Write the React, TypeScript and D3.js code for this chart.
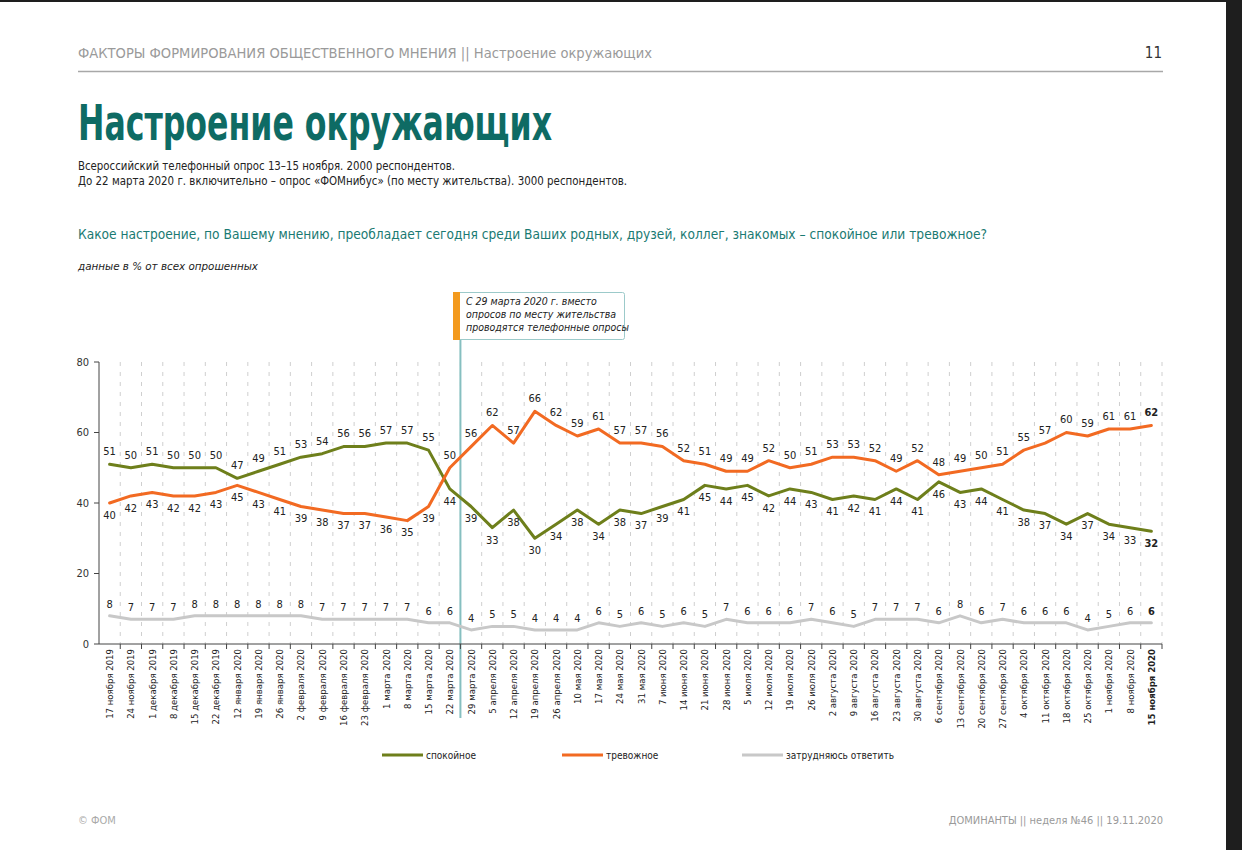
import React from "react";
import * as d3 from "d3";

const dates = [
  "17 ноября 2019", "24 ноября 2019", "1 декабря 2019", "8 декабря 2019", "15 декабря 2019", "22 декабря 2019",
  "12 января 2020", "19 января 2020", "26 января 2020", "2 февраля 2020", "9 февраля 2020", "16 февраля 2020",
  "23 февраля 2020", "1 марта 2020", "8 марта 2020", "15 марта 2020", "22 марта 2020", "29 марта 2020",
  "5 апреля 2020", "12 апреля 2020", "19 апреля 2020", "26 апреля 2020", "10 мая 2020", "17 мая 2020",
  "24 мая 2020", "31 мая 2020", "7 июня 2020", "14 июня 2020", "21 июня 2020", "28 июня 2020",
  "5 июля 2020", "12 июля 2020", "19 июля 2020", "26 июля 2020", "2 августа 2020", "9 августа 2020",
  "16 августа 2020", "23 августа 2020", "30 августа 2020", "6 сентября 2020", "13 сентября 2020", "20 сентября 2020",
  "27 сентября 2020", "4 октября 2020", "11 октября 2020", "18 октября 2020", "25 октября 2020", "1 ноября 2020",
  "8 ноября 2020", "15 ноября 2020",
];

const calm = [
  51, 50, 51, 50, 50, 50, 47, 49, 51, 53, 54, 56, 56, 57, 57, 55, 44,
  39, 33, 38, 30, 34, 38, 34, 38, 37, 39, 41, 45, 44, 45, 42, 44, 43, 41, 42, 41, 44, 41, 46, 43, 44, 41, 38, 37, 34, 37, 34, 33, 32,
];
const anxious = [
  40, 42, 43, 42, 42, 43, 45, 43, 41, 39, 38, 37, 37, 36, 35, 39, 50,
  56, 62, 57, 66, 62, 59, 61, 57, 57, 56, 52, 51, 49, 49, 52, 50, 51, 53, 53, 52, 49, 52, 48, 49, 50, 51, 55, 57, 60, 59, 61, 61, 62,
];
const hard = [
  8, 7, 7, 7, 8, 8, 8, 8, 8, 8, 7, 7, 7, 7, 7, 6, 6,
  4, 5, 5, 4, 4, 4, 6, 5, 6, 5, 6, 5, 7, 6, 6, 6, 7, 6, 5, 7, 7, 7, 6, 8, 6, 7, 6, 6, 6, 4, 5, 6, 6,
];
const yTicks = [0, 20, 40, 60, 80];
const seriesNames = ["спокойное", "тревожное", "затрудняюсь ответить"];

const FONT = "'Liberation Sans Narrow', 'DejaVu Sans Condensed', 'Roboto', sans-serif";
const GREEN = "#6e7f1b";
const ORANGE = "#f26a22";
const GRAY = "#c8c8c8";
const TEAL = "#0e6b64";

export default function App() {
  const left = 99, right = 1162, top = 362, bottom = 644;
  const x = d3.scaleBand<string>().domain(dates).range([left, right]).padding(0);
  const bw = x.bandwidth();
  const cx = (i: number) => (x(dates[i]) as number) + bw / 2;
  const y = d3.scaleLinear().domain([0, 80]).range([bottom, top]);
  const line = d3
    .line<number>()
    .x((_, i) => cx(i))
    .y((d) => y(d))
    .curve(d3.curveLinear);

  const switchIdx = 16; // last index before phone surveys (22 марта)
  const boundaryX = (x(dates[switchIdx]) as number) + bw;
  const boundaries = dates.map((d) => (x(d) as number) + bw);
  const last = dates.length - 1;

  const labelStyle = (i: number) => ({
    fontSize: 11,
    fontFamily: FONT,
    fill: "#222",
    fontWeight: i === last ? 700 : 400,
  });

  const series = [
    { vals: calm, color: GREEN, off: (i: number) => (i < switchIdx ? -13 : 12) },
    { vals: anxious, color: ORANGE, off: (i: number) => (i < switchIdx ? 12 : -13) },
    { vals: hard, color: GRAY, off: () => -12 },
  ];

  const legend = [
    { name: seriesNames[0], color: GREEN, x: 382 },
    { name: seriesNames[1], color: ORANGE, x: 562 },
    { name: seriesNames[2], color: GRAY, x: 742 },
  ];

  return (
    <svg
      width={1242}
      height={850}
      style={{ position: "absolute", left: 0, top: 0, background: "#fff" }}
      fontFamily={FONT}
    >
      <rect x={0} y={0} width={1242} height={850} fill="#fff" />
      {/* dark frame */}
      <rect x={0} y={0} width={1242} height={2} fill="#1e1e1e" />
      <rect x={1226} y={0} width={16} height={850} fill="#1e1e1e" />

      {/* header */}
      <text x={78} y={58} fontSize={14.5} fill="#9a9a9a" textLength={574} lengthAdjust="spacingAndGlyphs">
        ФАКТОРЫ ФОРМИРОВАНИЯ ОБЩЕСТВЕННОГО МНЕНИЯ  ||  Настроение окружающих
      </text>
      <text x={1162} y={58} fontSize={15} fill="#333" textAnchor="end">11</text>
      <line x1={78} x2={1163} y1={71.5} y2={71.5} stroke="#a8a8a8" strokeWidth={1.5} />

      {/* title */}
      <text x={78} y={140} fontSize={50} fontWeight={700} fill={TEAL} textLength={474} lengthAdjust="spacingAndGlyphs">
        Настроение окружающих
      </text>
      <text x={78} y={170} fontSize={12.5} fill="#222" textLength={377} lengthAdjust="spacingAndGlyphs">
        Всероссийский телефонный опрос 13–15 ноября. 2000 респондентов.
      </text>
      <text x={78} y={185} fontSize={12.5} fill="#222" textLength={549} lengthAdjust="spacingAndGlyphs">
        До 22 марта 2020 г. включительно – опрос «ФОМнибус» (по месту жительства). 3000 респондентов.
      </text>
      <text x={78} y={239} fontSize={14.5} fill="#1a7a72" textLength={909} lengthAdjust="spacingAndGlyphs">
        Какое настроение, по Вашему мнению, преобладает сегодня среди Ваших родных, друзей, коллег, знакомых – спокойное или тревожное?
      </text>
      <text x={78} y={270} fontSize={11} fontStyle="italic" fill="#222" textLength={180} lengthAdjust="spacingAndGlyphs">
        данные в % от всех опрошенных
      </text>

      {/* vertical dashed grid */}
      {boundaries.map((bx, i) => (
        <line key={"g" + i} x1={bx} x2={bx} y1={top} y2={bottom} stroke="#cfcfcf" strokeWidth={1} strokeDasharray="4 6" />
      ))}

      {/* teal separator line */}
      <line x1={boundaryX} x2={boundaryX} y1={340} y2={718} stroke="#86bfc0" strokeWidth={2} />

      {/* annotation box */}
      <rect x={453.5} y={292.5} width={171} height={47} rx={2} fill="#fff" stroke="#9ccaca" strokeWidth={1} />
      <rect x={453} y={292} width={7} height={48} fill="#f39a1e" />
      <g fontSize={10.5} fontStyle="italic" fill="#222">
        <text x={466} y={305}>С 29 марта 2020 г. вместо</text>
        <text x={466} y={318}>опросов по месту жительства</text>
        <text x={466} y={331}>проводятся телефонные опросы</text>
      </g>

      {/* axes */}
      <line x1={left} x2={left} y1={top} y2={bottom} stroke="#444" strokeWidth={1} />
      <line x1={left} x2={right} y1={bottom} y2={bottom} stroke="#444" strokeWidth={1} />
      {yTicks.map((t) => (
        <g key={"y" + t}>
          <line x1={left - 5} x2={left} y1={y(t)} y2={y(t)} stroke="#444" />
          <text x={left - 10} y={y(t)} dy="0.35em" fontSize={11} fill="#333" textAnchor="end">{t}</text>
        </g>
      ))}
      {boundaries.map((bx, i) => (
        <line key={"t" + i} x1={bx} x2={bx} y1={bottom} y2={bottom + 5} stroke="#444" />
      ))}
      {dates.map((d, i) => (
        <text
          key={"x" + i}
          transform={`translate(${cx(i)},${bottom + 5}) rotate(-90)`}
          textAnchor="end"
          dominantBaseline="central"
          fontSize={9.5}
          fontWeight={i === last ? 700 : 400}
          fill="#222"
        >
          {d}
        </text>
      ))}

      {/* lines */}
      {series.map((s, k) => (
        <path key={"l" + k} d={line(s.vals) || ""} fill="none" stroke={s.color} strokeWidth={3} strokeLinejoin="round" strokeLinecap="round" />
      ))}

      {/* data labels */}
      {series.map((s, k) => (
        <g key={"lb" + k}>
          {s.vals.map((v, i) => (
            <text
              key={i}
              x={cx(i)}
              y={y(v) + s.off(i)}
              dy="0.35em"
              textAnchor="middle"
              style={labelStyle(i)}
            >
              {v}
            </text>
          ))}
        </g>
      ))}

      {/* legend */}
      {legend.map((l) => (
        <g key={l.name}>
          <line x1={l.x} x2={l.x + 41} y1={755} y2={755} stroke={l.color} strokeWidth={3} />
          <text x={l.x + 44} y={755} dy="0.35em" fontSize={10} fill="#222">{l.name}</text>
        </g>
      ))}

      {/* footer */}
      <text x={78} y={824} fontSize={11} fill="#aaa">© ФОМ</text>
      <text x={1163} y={824} fontSize={11} fill="#9a9a9a" textAnchor="end">ДОМИНАНТЫ  ||  неделя №46 || 19.11.2020</text>
    </svg>
  );
}
